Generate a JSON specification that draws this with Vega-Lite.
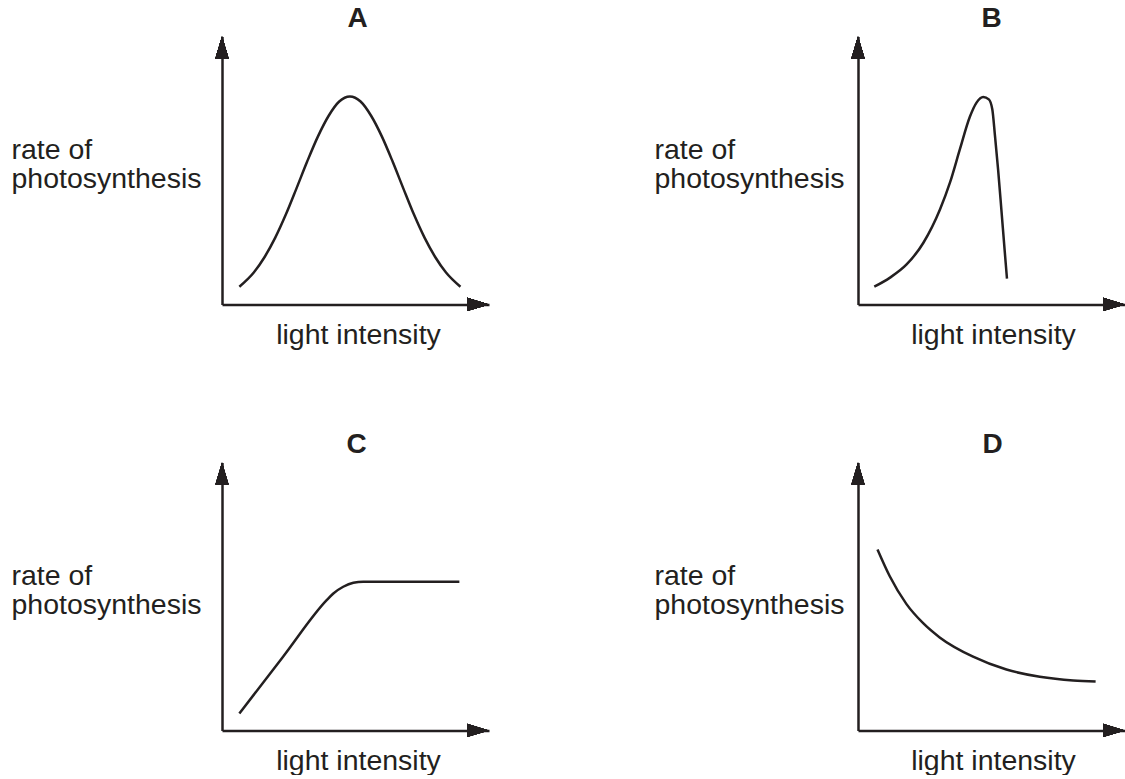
{
  "$schema": "https://vega.github.io/schema/vega-lite/v6.json",
  "background": "white",
  "padding": {"left": 11, "top": 4.4, "right": 0, "bottom": 0},
  "autosize": {"type": "pad"},
  "config": {
    "view": {"stroke": null},
    "font": "Liberation Sans",
    "axis": {
      "domainColor": "#231f20",
      "domainWidth": 2.5,
      "ticks": false,
      "labels": false,
      "grid": false,
      "titleFont": "Liberation Sans",
      "titleFontSize": 28.5,
      "titleFontWeight": "normal",
      "titleColor": "#231f20",
      "titlePadding": 0
    },
    "title": {"font": "Liberation Sans", "fontSize": 28, "fontWeight": "bold", "color": "#231f20", "anchor": "middle", "frame": "group", "baseline": "alphabetic", "offset": 3.5}
  },
  "bounds": "flush",
  "columns": 2,
  "spacing": {"row": 158, "column": 369},
  "concat": [
    {
      "width": 267, "height": 268,
      "title": {"text": "A", "fontSize": 28, "fontWeight": "bold", "font": "Liberation Sans", "dx": 2},
      "data": {"values": [
        {"x": 0.65, "y": 0.66}, {"x": 1.19, "y": 1.19}, {"x": 1.59, "y": 1.76}, {"x": 1.99, "y": 2.48},
        {"x": 2.39, "y": 3.35}, {"x": 2.79, "y": 4.33}, {"x": 3.19, "y": 5.33}, {"x": 3.59, "y": 6.26},
        {"x": 3.99, "y": 7.03}, {"x": 4.39, "y": 7.57}, {"x": 4.79, "y": 7.76}, {"x": 5.19, "y": 7.57},
        {"x": 5.59, "y": 7.03}, {"x": 5.99, "y": 6.26}, {"x": 6.39, "y": 5.33}, {"x": 6.79, "y": 4.33},
        {"x": 7.19, "y": 3.35}, {"x": 7.59, "y": 2.48}, {"x": 7.99, "y": 1.76}, {"x": 8.39, "y": 1.19},
        {"x": 8.93, "y": 0.66}
      ]},
      "layer": [
        {
          "mark": {"type": "line", "interpolate": "monotone", "color": "#231f20", "strokeWidth": 2.5},
          "encoding": {
            "x": {"field": "x", "type": "quantitative", "scale": {"domain": [0, 10], "nice": false, "zero": false},
                  "axis": {"title": "light intensity", "titleBaseline": "alphabetic", "titleY": 39, "titleX": 136}},
            "y": {"field": "y", "type": "quantitative", "scale": {"domain": [0, 10], "nice": false, "zero": false},
                  "axis": {"title": ["rate of", "photosynthesis"], "titleAngle": 0, "titleAlign": "left", "titleBaseline": "alphabetic", "titleX": -211, "titleY": 122.5, "titleLineHeight": 29}}
          }
        },
        {
          "mark": {"type": "point", "shape": "M0,0L0.6,2L-0.6,2Z", "filled": true, "color": "#231f20", "size": 484, "opacity": 1, "strokeWidth": 0},
          "encoding": {"x": {"datum": 0, "type": "quantitative"}, "y": {"datum": 10, "type": "quantitative"}}
        },
        {
          "mark": {"type": "point", "shape": "M0,0L-2,-0.6L-2,0.6Z", "filled": true, "color": "#231f20", "size": 484, "opacity": 1, "strokeWidth": 0},
          "encoding": {"x": {"datum": 10, "type": "quantitative"}, "y": {"datum": 0, "type": "quantitative"}}
        }
      ]
    },
    {
      "width": 267, "height": 268,
      "title": {"text": "B", "fontSize": 28, "fontWeight": "bold", "font": "Liberation Sans"},
      "data": {"values": [
        {"x": 0.61, "y": 0.66}, {"x": 1.2, "y": 1.0}, {"x": 1.82, "y": 1.49}, {"x": 2.45, "y": 2.3},
        {"x": 3.07, "y": 3.54}, {"x": 3.45, "y": 4.56}, {"x": 3.82, "y": 5.8}, {"x": 4.19, "y": 7.0},
        {"x": 4.44, "y": 7.53}, {"x": 4.69, "y": 7.74}, {"x": 4.9, "y": 7.65}, {"x": 5.03, "y": 7.28},
        {"x": 5.13, "y": 6.3}, {"x": 5.25, "y": 5.0}, {"x": 5.37, "y": 3.54}, {"x": 5.49, "y": 2.05},
        {"x": 5.58, "y": 0.96}
      ]},
      "layer": [
        {
          "mark": {"type": "line", "interpolate": "monotone", "color": "#231f20", "strokeWidth": 2.5},
          "encoding": {
            "x": {"field": "x", "type": "quantitative", "scale": {"domain": [0, 10], "nice": false, "zero": false},
                  "axis": {"title": "light intensity", "titleBaseline": "alphabetic", "titleY": 39, "titleX": 135}},
            "y": {"field": "y", "type": "quantitative", "scale": {"domain": [0, 10], "nice": false, "zero": false},
                  "axis": {"title": ["rate of", "photosynthesis"], "titleAngle": 0, "titleAlign": "left", "titleBaseline": "alphabetic", "titleX": -204, "titleY": 122.5, "titleLineHeight": 29}}
          }
        },
        {
          "mark": {"type": "point", "shape": "M0,0L0.6,2L-0.6,2Z", "filled": true, "color": "#231f20", "size": 484, "opacity": 1, "strokeWidth": 0},
          "encoding": {"x": {"datum": 0, "type": "quantitative"}, "y": {"datum": 10, "type": "quantitative"}}
        },
        {
          "mark": {"type": "point", "shape": "M0,0L-2,-0.6L-2,0.6Z", "filled": true, "color": "#231f20", "size": 484, "opacity": 1, "strokeWidth": 0},
          "encoding": {"x": {"datum": 10, "type": "quantitative"}, "y": {"datum": 0, "type": "quantitative"}}
        }
      ]
    },
    {
      "width": 267, "height": 268,
      "title": {"text": "C", "fontSize": 28, "fontWeight": "bold", "font": "Liberation Sans", "dx": 1},
      "data": {"values": [
        {"x": 0.65, "y": 0.63}, {"x": 2.28, "y": 2.74}, {"x": 3.92, "y": 4.86}, {"x": 4.17, "y": 5.11},
        {"x": 4.54, "y": 5.36}, {"x": 4.92, "y": 5.51}, {"x": 5.29, "y": 5.55}, {"x": 7.1, "y": 5.55},
        {"x": 8.89, "y": 5.55}
      ]},
      "layer": [
        {
          "mark": {"type": "line", "interpolate": "monotone", "color": "#231f20", "strokeWidth": 2.5},
          "encoding": {
            "x": {"field": "x", "type": "quantitative", "scale": {"domain": [0, 10], "nice": false, "zero": false},
                  "axis": {"title": "light intensity", "titleBaseline": "alphabetic", "titleY": 39, "titleX": 136}},
            "y": {"field": "y", "type": "quantitative", "scale": {"domain": [0, 10], "nice": false, "zero": false},
                  "axis": {"title": ["rate of", "photosynthesis"], "titleAngle": 0, "titleAlign": "left", "titleBaseline": "alphabetic", "titleX": -211, "titleY": 122.5, "titleLineHeight": 29}}
          }
        },
        {
          "mark": {"type": "point", "shape": "M0,0L0.6,2L-0.6,2Z", "filled": true, "color": "#231f20", "size": 484, "opacity": 1, "strokeWidth": 0},
          "encoding": {"x": {"datum": 0, "type": "quantitative"}, "y": {"datum": 10, "type": "quantitative"}}
        },
        {
          "mark": {"type": "point", "shape": "M0,0L-2,-0.6L-2,0.6Z", "filled": true, "color": "#231f20", "size": 484, "opacity": 1, "strokeWidth": 0},
          "encoding": {"x": {"datum": 10, "type": "quantitative"}, "y": {"datum": 0, "type": "quantitative"}}
        }
      ]
    },
    {
      "width": 267, "height": 268,
      "title": {"text": "D", "fontSize": 28, "fontWeight": "bold", "font": "Liberation Sans", "dx": 1},
      "data": {"values": [
        {"x": 0.73, "y": 6.75}, {"x": 1.19, "y": 5.75}, {"x": 1.81, "y": 4.72}, {"x": 2.44, "y": 4.0},
        {"x": 3.06, "y": 3.47}, {"x": 4.31, "y": 2.75}, {"x": 5.56, "y": 2.27}, {"x": 6.81, "y": 2.0},
        {"x": 8.06, "y": 1.86}, {"x": 8.9, "y": 1.82}
      ]},
      "layer": [
        {
          "mark": {"type": "line", "interpolate": "monotone", "color": "#231f20", "strokeWidth": 2.5},
          "encoding": {
            "x": {"field": "x", "type": "quantitative", "scale": {"domain": [0, 10], "nice": false, "zero": false},
                  "axis": {"title": "light intensity", "titleBaseline": "alphabetic", "titleY": 39, "titleX": 135}},
            "y": {"field": "y", "type": "quantitative", "scale": {"domain": [0, 10], "nice": false, "zero": false},
                  "axis": {"title": ["rate of", "photosynthesis"], "titleAngle": 0, "titleAlign": "left", "titleBaseline": "alphabetic", "titleX": -204, "titleY": 122.5, "titleLineHeight": 29}}
          }
        },
        {
          "mark": {"type": "point", "shape": "M0,0L0.6,2L-0.6,2Z", "filled": true, "color": "#231f20", "size": 484, "opacity": 1, "strokeWidth": 0},
          "encoding": {"x": {"datum": 0, "type": "quantitative"}, "y": {"datum": 10, "type": "quantitative"}}
        },
        {
          "mark": {"type": "point", "shape": "M0,0L-2,-0.6L-2,0.6Z", "filled": true, "color": "#231f20", "size": 484, "opacity": 1, "strokeWidth": 0},
          "encoding": {"x": {"datum": 10, "type": "quantitative"}, "y": {"datum": 0, "type": "quantitative"}}
        }
      ]
    }
  ]
}
